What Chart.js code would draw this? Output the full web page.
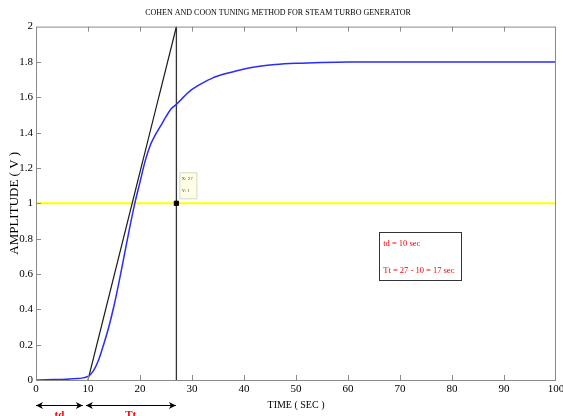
<!DOCTYPE html>
<html>
<head>
<meta charset="utf-8">
<title>Cohen and Coon tuning</title>
<script src="https://cdn.jsdelivr.net/npm/chart.js@4.4.1/dist/chart.umd.min.js"></script>
<style>
	body{margin:0;background:#fff;}
</style>
</head>
<body>
<canvas id="cohen-coon"></canvas>
<script>
//DATA
var timeSec = [0,2,5,8,9,10,11,12,13,14,15,16,17,18,19,20,21,22,23,24,25,26,27,28,29,30,32,34,36,38,40,43,46,50,55,60,70,80,90,100];
var amplitude = [0,0.002,0.003,0.008,0.012,0.02,0.05,0.11,0.2,0.3,0.42,0.56,0.71,0.86,1.0,1.12,1.24,1.33,1.39,1.44,1.49,1.535,1.56,1.59,1.62,1.645,1.68,1.71,1.73,1.745,1.76,1.775,1.785,1.792,1.797,1.8,1.8,1.8,1.8,1.8];
var tangentX = [10,27];
var tangentY = [0,2];
var markX = 27;
var markY = 1;
var refLevel = 1;
var xTicks = [0,10,20,30,40,50,60,70,80,90,100];
var yTicks = [0,0.2,0.4,0.6,0.8,1,1.2,1.4,1.6,1.8,2];
var infoLines = ['td = 10 sec','Tt = 27 - 10 = 17 sec'];
var tipLines = ['X: 27','Y: 1'];

var FONT = '"Liberation Serif", "Times New Roman", serif';

function toPoints(xs, ys){
	var pts = new Array();
	for(var i=0;i<xs.length;i++){
		pts[i] = {x: xs[i], y: ys[i]};
	}
	return pts;
}

// frame, inward ticks, data tip, note box and the td / Tt arrows
var extras = {
	id: 'extras',
	afterDatasetsDraw: function(chart){
		var c = chart.ctx;
		var a = chart.chartArea;
		var sx = chart.scales.x;
		var sy = chart.scales.y;
		var i, p;
		c.save();

		//FRAME
		c.strokeStyle = '#8a8a8a';
		c.lineWidth = 1;
		c.strokeRect(a.left+0.5, a.top+0.5, a.right-a.left-1, a.bottom-a.top);

		//TICKS
		c.beginPath();
		for(i=1;i<xTicks.length-1;i++){
			p = Math.round(sx.getPixelForValue(xTicks[i]))+0.5;
			c.moveTo(p, a.bottom); c.lineTo(p, a.bottom-5);
			c.moveTo(p, a.top); c.lineTo(p, a.top+5);
		}
		for(i=1;i<yTicks.length-1;i++){
			p = Math.round(sy.getPixelForValue(yTicks[i]))+0.5;
			c.moveTo(a.left, p); c.lineTo(a.left+5, p);
		}
		c.stroke();

		//DATA TIP
		var mx = sx.getPixelForValue(markX);
		var my = sy.getPixelForValue(markY);
		c.fillStyle = '#ffffe8';
		c.fillRect(mx+3, my-31, 18, 27);
		c.strokeStyle = '#d8d8c8';
		c.strokeRect(mx+3.5, my-30.5, 17, 26);
		c.fillStyle = '#555';
		c.font = '5px ' + FONT;
		c.textBaseline = 'middle';
		c.textAlign = 'left';
		c.fillText(tipLines[0], mx+5, my-25);
		c.fillText(tipLines[1], mx+5, my-13);

		//NOTE BOX
		var bx = sx.getPixelForValue(66);
		var bx2 = sx.getPixelForValue(81.7);
		var by = sy.getPixelForValue(0.836);
		var by2 = sy.getPixelForValue(0.565);
		c.strokeStyle = '#333';
		c.lineWidth = 1;
		c.strokeRect(Math.round(bx)+0.5, Math.round(by)+0.5, Math.round(bx2-bx), Math.round(by2-by));
		c.fillStyle = '#ff0000';
		c.font = '8.5px ' + FONT;
		c.fillText(infoLines[0], bx+4, by+11);
		c.fillText(infoLines[1], bx+4, by+38);

		c.restore();
	},
	afterDraw: function(chart){
		var c = chart.ctx;
		var a = chart.chartArea;
		var sx = chart.scales.x;
		var ay = a.bottom + 25;
		c.save();
		c.strokeStyle = '#000';
		c.fillStyle = '#000';
		c.lineWidth = 1;
		drawArrow(c, sx.getPixelForValue(0), sx.getPixelForValue(9), ay);
		drawArrow(c, sx.getPixelForValue(9.6), sx.getPixelForValue(26.9), ay);
		c.fillStyle = '#ff0000';
		c.font = 'bold 11px ' + FONT;
		c.textAlign = 'center';
		c.textBaseline = 'middle';
		c.fillText('td', sx.getPixelForValue(4.5), ay+10);
		c.fillText('Tt', sx.getPixelForValue(18.2), ay+10);
		c.restore();
	}
};

function drawArrow(c, x1, x2, y){
	c.beginPath();
	c.moveTo(x1, y+0.5); c.lineTo(x2, y+0.5);
	c.stroke();
	c.beginPath();
	c.moveTo(x1, y+0.5); c.lineTo(x1+7, y-3); c.lineTo(x1+5, y+0.5); c.lineTo(x1+7, y+4); c.closePath();
	c.fill();
	c.beginPath();
	c.moveTo(x2, y+0.5); c.lineTo(x2-7, y-3); c.lineTo(x2-5, y+0.5); c.lineTo(x2-7, y+4); c.closePath();
	c.fill();
}

function plainTick(v){
	return String(Math.round(v*10)/10);
}

//PRINT CHART
var ctx = document.getElementById('cohen-coon');
ctx.width = 563;
ctx.height = 416;

new Chart(ctx, {
	type: 'line',
	data: {
		datasets: [{
			label: 'marker',
			data: [{x: markX, y: markY}],
			pointStyle: 'rect',
			pointRadius: 3,
			backgroundColor: '#000',
			borderColor: '#000',
			showLine: false
		},{
			label: 'response',
			data: toPoints(timeSec, amplitude),
			borderColor: '#2b2bff',
			borderWidth: 1.5,
			pointRadius: 0,
			tension: 0.3
		},{
			label: 'tangent',
			data: toPoints(tangentX, tangentY),
			borderColor: '#1a1a1a',
			borderWidth: 1.2,
			pointRadius: 0
		},{
			label: 'x = 27',
			data: [{x: markX, y: 0},{x: markX, y: 2}],
			borderColor: '#333',
			borderWidth: 1.3,
			pointRadius: 0
		},{
			label: 'level',
			data: [{x: 0, y: refLevel},{x: 100, y: refLevel}],
			borderColor: '#ffff00',
			borderWidth: 2,
			pointRadius: 0
		}]
	},
	options: {
		responsive: false,
		animation: false,
		layout: { padding: { right: 7 } },
		scales: {
			x: {
				type: 'linear',
				min: 0,
				max: 100,
				afterBuildTicks: function(s){ s.ticks = xTicks.map(function(v){ return {value: v}; }); },
				afterFit: function(s){ s.height = 36; s.paddingLeft = 0; s.paddingRight = 0; },
				grid: { display: false, drawTicks: false },
				border: { display: false },
				ticks: { padding: 3, color: '#000', font: { family: FONT, size: 11 }, callback: plainTick },
				title: { display: true, text: 'TIME ( SEC )', color: '#000', padding: { top: 0, bottom: 5 }, font: { family: FONT, size: 10 } }
			},
			y: {
				min: 0,
				max: 2,
				afterBuildTicks: function(s){ s.ticks = yTicks.map(function(v){ return {value: v}; }); },
				afterFit: function(s){ s.width = 36; s.paddingTop = 0; s.paddingBottom = 0; },
				grid: { display: false, drawTicks: false },
				border: { display: false },
				ticks: { padding: 3, color: '#000', font: { family: FONT, size: 11 }, callback: plainTick },
				title: { display: true, text: 'AMPLITUDE ( V )', color: '#000', padding: { top: 7, bottom: 0 }, font: { family: FONT, size: 13 } }
			}
		},
		plugins: {
			legend: { display: false },
			tooltip: { enabled: false },
			title: {
				display: true,
				text: 'COHEN AND COON TUNING METHOD FOR STEAM TURBO GENERATOR',
				color: '#000',
				padding: { top: 8, bottom: 9 },
				font: { family: FONT, size: 8, weight: 'normal' }
			}
		}
	},
	plugins: [extras]
});
</script>
</body>
</html>
